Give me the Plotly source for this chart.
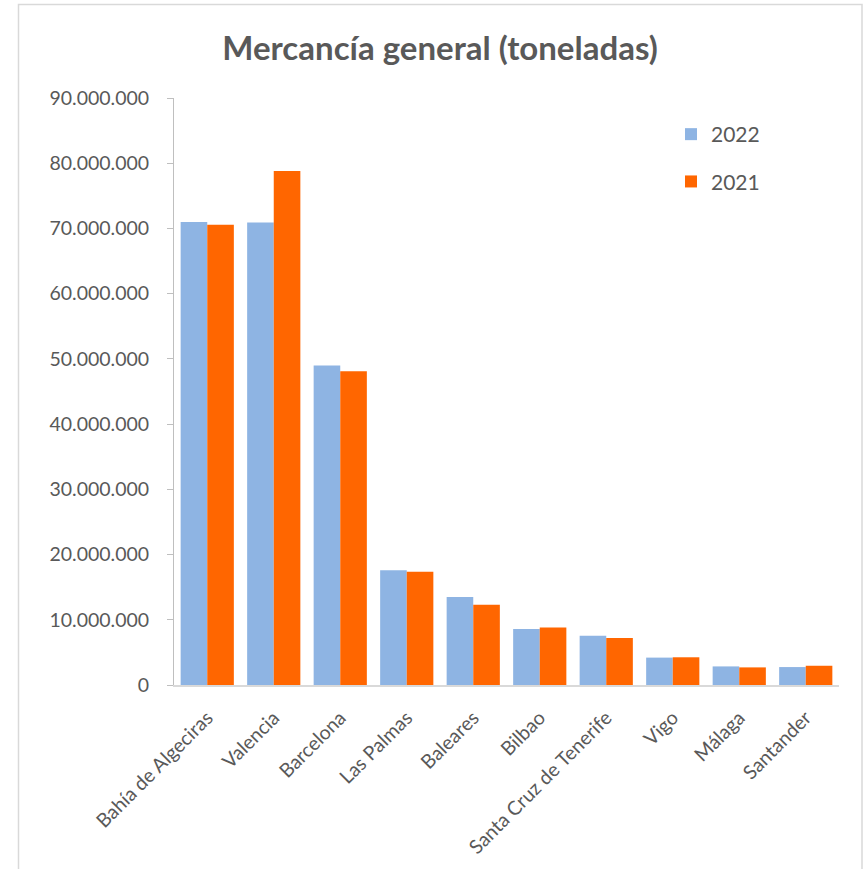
import plotly.graph_objects as go

ports = ["Bahía de Algeciras", "Valencia", "Barcelona", "Las Palmas", "Baleares",
         "Bilbao", "Santa Cruz de Tenerife", "Vigo", "Málaga", "Santander"]
t2022 = [71_000_000, 70_900_000, 49_000_000, 17_600_000, 13_500_000,
         8_600_000, 7_550_000, 4_200_000, 2_850_000, 2_750_000]
t2021 = [70_550_000, 78_800_000, 48_100_000, 17_350_000, 12_300_000,
         8_800_000, 7_200_000, 4_250_000, 2_700_000, 2_950_000]
y_ticks = list(range(0, 90_000_001, 10_000_000))

W, H = 867, 869
ML, MR, MT, MB = 174, 28, 98, 184
pw, ph = W - ML - MR, H - MT - MB

def px_x(p):
    return (p - ML) / pw

def px_y(p):
    return (H - MB - p) / ph

FONT = "Lato"
GREY = "#595959"

fig = go.Figure()
fig.add_trace(go.Bar(name="2022", x=ports, y=t2022, marker_color="#8EB4E3",
                     marker_line_width=0, legendgroup="a"))
fig.add_trace(go.Bar(name="2021", x=ports, y=t2021, marker_color="#FF6600",
                     marker_line_width=0, legendgroup="b"))

fig.update_layout(
    width=W, height=H,
    margin=dict(l=ML, r=MR, t=MT, b=MB, pad=0),
    paper_bgcolor="white", plot_bgcolor="white",
    separators=",.",
    barmode="group", bargap=0.2, bargroupgap=0,
    font=dict(family=FONT, color=GREY),
    title=dict(text="<b>Mercancía general (toneladas)</b>",
               x=440 / W, xanchor="center", xref="container",
               y=1 - 48 / H, yanchor="middle", yref="container",
               font=dict(family=FONT, size=33, color=GREY)),
    legend=dict(x=px_x(671), y=px_y(114), xanchor="left", yanchor="top",
                font=dict(family=FONT, size=21, color=GREY),
                tracegroupgap=17, bgcolor="rgba(0,0,0,0)"),
    xaxis=dict(showline=True, linecolor="#D9D9D9", linewidth=1.5,
               ticks="", tickangle=-45, showgrid=False, ticklabelstandoff=12,
               tickfont=dict(family=FONT, size=19.5, color=GREY)),
    yaxis=dict(range=[0, 90_000_000], tickvals=y_ticks, tickformat=",d",
               showline=True, linecolor="#BFBFBF", linewidth=1,
               ticks="outside", ticklen=6, tickcolor="#BFBFBF",
               showgrid=False, zeroline=False, ticklabelstandoff=14,
               tickfont=dict(family=FONT, size=19.5, color=GREY)),
    shapes=[dict(type="rect", xref="paper", yref="paper",
                 x0=px_x(18.5), x1=px_x(862), y0=px_y(900), y1=px_y(4.5),
                 line=dict(color="#D9D9D9", width=1.5), fillcolor="rgba(0,0,0,0)",
                 layer="below")],
)

fig.write_html("out.html", config={"displayModeBar": False},
               post_script="document.body.style.margin='0';document.body.style.overflow='hidden';")
